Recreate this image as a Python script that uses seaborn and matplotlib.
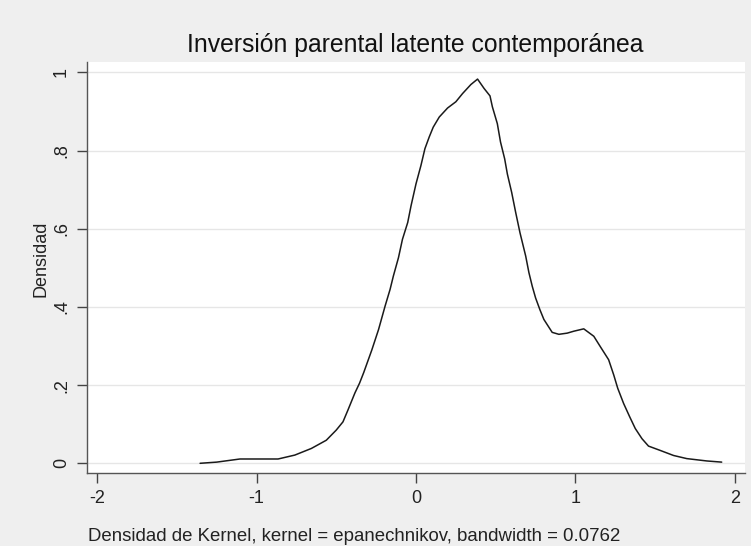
import matplotlib
matplotlib.use("Agg")
import matplotlib.pyplot as plt
import seaborn as sns
import pandas as pd

# Kernel density estimate
x_vals = [-1.354, -1.25, -1.104, -0.865, -0.76, -0.656, -0.5625, -0.50, -0.458,
          -0.427, -0.383, -0.354, -0.328, -0.277, -0.235, -0.194, -0.1625, -0.142,
          -0.110, -0.085, -0.052, -0.031, 0.0, 0.031, 0.056, 0.083, 0.108, 0.146,
          0.198, 0.25, 0.292, 0.344, 0.386, 0.427, 0.464, 0.479, 0.51, 0.53, 0.556,
          0.573, 0.60, 0.625, 0.652, 0.688, 0.708, 0.729, 0.75, 0.777, 0.802, 0.854,
          0.896, 0.948, 0.99, 1.052, 1.115, 1.155, 1.208, 1.24, 1.265, 1.302, 1.34,
          1.375, 1.417, 1.458, 1.531, 1.615, 1.698, 1.823, 1.917]
density = [0.000, 0.003, 0.011, 0.011, 0.021, 0.038, 0.059, 0.085, 0.106,
           0.136, 0.180, 0.205, 0.232, 0.290, 0.342, 0.402, 0.445, 0.479,
           0.526, 0.573, 0.616, 0.659, 0.715, 0.762, 0.805, 0.835, 0.860, 0.886,
           0.909, 0.925, 0.946, 0.969, 0.983, 0.959, 0.940, 0.912, 0.869, 0.822, 0.779,
           0.740, 0.693, 0.642, 0.590, 0.530, 0.488, 0.453, 0.423, 0.393, 0.368, 0.335,
           0.330, 0.333, 0.338, 0.344, 0.325, 0.299, 0.265, 0.226, 0.192, 0.153, 0.119,
           0.089, 0.063, 0.044, 0.033, 0.020, 0.012, 0.006, 0.003]

x_ticks = [-2, -1, 0, 1, 2]
x_tick_labels = ["-2", "-1", "0", "1", "2"]
y_ticks = [0, 0.2, 0.4, 0.6, 0.8, 1.0]
y_tick_labels = ["0", ".2", ".4", ".6", ".8", "1"]

title = "Inversión parental latente contemporánea"
y_label = "Densidad"
note = "Densidad de Kernel, kernel = epanechnikov, bandwidth = 0.0762"

df = pd.DataFrame({"x": x_vals, "density": density})

sns.set_theme(style="white")
plt.rcParams["font.family"] = ["Liberation Sans", "DejaVu Sans"]

bg = "#EFEFEF"
fig = plt.figure(figsize=(7.51, 5.46), dpi=100, facecolor=bg)
ax = fig.add_axes([86.7 / 751, 1 - 473.3 / 546, (744.5 - 86.7) / 751, (473.3 - 61.5) / 546])
ax.set_facecolor("white")

sns.lineplot(data=df, x="x", y="density", sort=False, color="#1a1a1a",
             linewidth=1.1, ax=ax)

ax.set_xlim(-2.065, 2.06)
ax.set_ylim(-0.0256, 1.028)

ax.set_yticks(y_ticks)
ax.set_yticklabels(y_tick_labels)
ax.set_xticks(x_ticks)
ax.set_xticklabels(x_tick_labels)

ax.yaxis.grid(True, color="#E6E6E6", linewidth=1.0)
ax.xaxis.grid(False)
ax.set_axisbelow(True)

for side in ["top", "right"]:
    ax.spines[side].set_visible(False)
for side in ["left", "bottom"]:
    ax.spines[side].set_visible(True)
    ax.spines[side].set_color("#555555")
    ax.spines[side].set_linewidth(1.0)

ax.tick_params(axis="both", which="major", direction="out", length=7,
               width=1.0, color="#444444", labelsize=13, labelcolor="#222222",
               pad=5, left=True, bottom=True)
for lbl in ax.get_yticklabels():
    lbl.set_rotation(90)
    lbl.set_va("center")
    lbl.set_ha("right")

ax.set_xlabel("")
ax.set_ylabel(y_label, fontsize=13, color="#222222")
ax.yaxis.set_label_coords(-0.056, 0.52)

fig.text(415.6 / 751, 1 - 51.7 / 546, title, ha="center", va="baseline",
         fontsize=17.8, color="#111111")
fig.text(88 / 751, 1 - 541 / 546, note, ha="left", va="baseline",
         fontsize=13.4, color="#222222")

fig.savefig("out.png", dpi=100, facecolor=bg)
